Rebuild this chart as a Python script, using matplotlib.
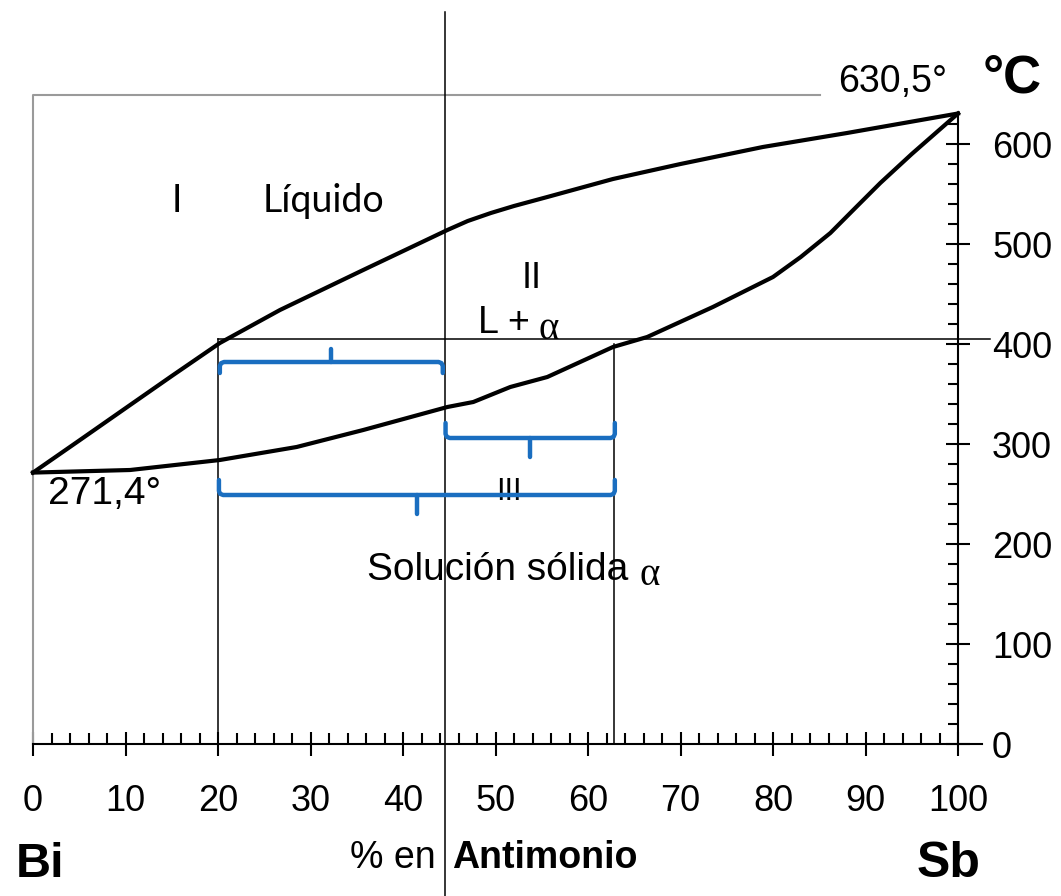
import matplotlib.pyplot as plt
import numpy as np

plt.rcParams['font.family'] = ['Liberation Sans', 'DejaVu Sans']

# Bi-Sb phase diagram: liquidus and solidus curves (% Sb, °C)
liq_pct = [0, 5, 10.5, 15, 20.2, 26.7, 35.7, 44.8, 47, 49.5, 52, 55.6, 62.7, 70, 78.9, 88, 100]
liq_temp = [271.4, 303.5, 339, 368, 401, 434, 474, 514, 523, 531, 538, 547, 565, 580, 597, 611, 630.5]
sol_pct = [0, 10.5, 20.2, 28.5, 35.7, 44.8, 47.6, 51.6, 55.6, 62.7, 66.4, 73.5, 80, 83, 86.2,
           89, 91.6, 95, 100]
sol_temp = [271.4, 274, 284, 297, 314, 337, 342, 357, 367, 397, 407, 437, 467, 487, 511,
            537, 561, 590, 630.5]

bi_melt = 271.4
sb_melt = 630.5

x_ticks = list(range(0, 101, 10))
y_ticks = list(range(0, 601, 100))

# alloy composition and the tie line at 405 °C
alloy_pct = 44.5
tie_temp = 405
tie_sol_pct = 20
tie_liq_pct = 62.8

# lever-rule brackets: (start %, end %, temperature, hook direction)
brackets = [
    (20.2, 44.3, 382, -1),
    (44.6, 62.9, 306, 1),
    (20.1, 62.9, 249, 1),
]

blue = '#1a6ec0'

fig = plt.figure(figsize=(10.61, 8.96), dpi=100)
ax = fig.add_axes([0, 0, 1, 1])
ax.set_xlim(-33 / 9.25, (1061 - 33) / 9.25)
ax.set_ylim(744 - 896, 744)

for side in ('top', 'left'):
    ax.spines[side].set_visible(False)
ax.spines['bottom'].set_position(('data', 0))
ax.spines['bottom'].set_bounds(0, 102.6)
ax.spines['right'].set_position(('data', 100))
ax.spines['right'].set_bounds(0, sb_melt)
for side in ('bottom', 'right'):
    ax.spines[side].set_linewidth(1.5)

ax.xaxis.set_ticks_position('bottom')
ax.yaxis.set_ticks_position('right')
ax.set_xticks(x_ticks, labels=[str(v) for v in x_ticks])
ax.set_xticks(np.arange(0, 101, 2), minor=True)
ax.set_yticks(y_ticks, labels=[str(v) for v in y_ticks])
ax.set_yticks(np.arange(0, 621, 20), minor=True)
ax.tick_params(axis='x', which='major', direction='inout', length=17, width=1.5,
               pad=20, labelsize=26)
ax.tick_params(axis='x', which='minor', direction='in', length=8, width=1.5)
ax.tick_params(axis='y', which='major', direction='inout', length=17, width=1.5,
               pad=16, labelsize=26)
ax.tick_params(axis='y', which='minor', direction='in', length=7.5, width=1.5)

# gray frame on the left and top
ax.plot([0, 0, 85.1], [0, 649, 649], color='#9a9a9a', lw=1.5)

# construction lines
ax.plot([alloy_pct, alloy_pct], [-152, 732], color='black', lw=1.1)
ax.plot([tie_sol_pct, 103.5], [tie_temp, tie_temp], color='black', lw=1.1)
ax.plot([tie_sol_pct, tie_sol_pct], [0, tie_temp], color='black', lw=1.1)
ax.plot([tie_liq_pct, tie_liq_pct], [0, 400], color='black', lw=1.1)

# liquidus and solidus
ax.plot(liq_pct, liq_temp, color='black', lw=3, solid_joinstyle='round', zorder=3)
ax.plot(sol_pct, sol_temp, color='black', lw=3, solid_joinstyle='round', zorder=3)

ax.text(51.4, 252, 'III', fontsize=22, ha='center', va='center', zorder=2)

# curly brackets
for x0, x1, t, d in brackets:
    hook = 15 if d > 0 else 11
    tick = 19 if d > 0 else 13
    rx, ry = 0.45, 4
    xs = [x0, x0, x0 + rx * 0.3, x0 + rx, x1 - rx, x1 - rx * 0.3, x1, x1]
    ys = [t + d * hook, t + d * ry, t + d * ry * 0.3, t, t, t + d * ry * 0.3, t + d * ry, t + d * hook]
    ax.plot(xs, ys, color=blue, lw=3.2, solid_capstyle='round', solid_joinstyle='round', zorder=4)
    xc = (x0 + x1) / 2
    ax.plot([xc, xc], [t, t - d * tick], color=blue, lw=3.2, solid_capstyle='round', zorder=4)

# labels
ax.text(87.0, 662, '630,5°', fontsize=27, ha='left', va='center')
ax.text(102.7, 666, '°C', fontsize=38, fontweight='bold', ha='left', va='center')
ax.text(1.6, 250, '271,4°', fontsize=28, ha='left', va='center')
ax.text(15.6, 532, 'I', fontsize=27, ha='center', va='baseline', family='Lato')
ax.text(24.8, 532, 'Líquido', fontsize=27, ha='left', va='baseline', family='Lato')
ax.text(53.9, 456, 'II', fontsize=26, ha='center', va='baseline')
ax.text(48.1, 411, 'L +', fontsize=27, ha='left', va='baseline')
ax.text(54.7, 405, 'α', fontsize=28, ha='left', va='baseline', family='Liberation Serif')
ax.text(36.1, 164, 'Solución sólida', fontsize=28, ha='left', va='baseline')
ax.text(65.6, 159, 'α', fontsize=28, ha='left', va='baseline', family='Liberation Serif')
ax.text(-1.9, -133, 'Bi', fontsize=35, fontweight='bold', ha='left', va='baseline')
ax.text(102.4, -133, 'Sb', fontsize=36, fontweight='bold', ha='right', va='baseline')
ax.text(34.3, -124, '% en', fontsize=27, ha='left', va='baseline')
ax.text(45.3, -124, 'Antimonio', fontsize=27, fontweight='bold', ha='left', va='baseline')

fig.savefig('out.png', dpi=100)
